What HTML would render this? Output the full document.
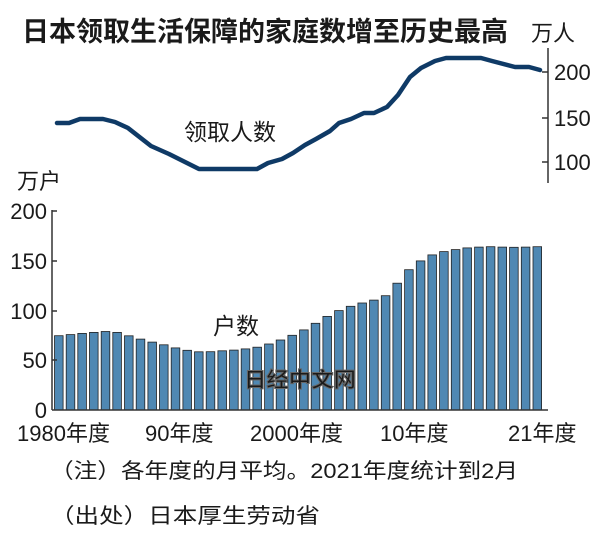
<!DOCTYPE html>
<html><head><meta charset="utf-8"><style>
body{margin:0;background:#fff;width:600px;height:552px;overflow:hidden}
svg text{font-family:"Liberation Sans","Noto Sans CJK SC",sans-serif;fill:#1a1a1a}
.n{font-family:"Liberation Sans Narrow","Liberation Sans","Noto Sans CJK SC",sans-serif}
</style></head><body>
<svg width="600" height="552" xmlns="http://www.w3.org/2000/svg">
<text x="22" y="41" font-size="27" font-weight="bold" fill="#000" textLength="486" lengthAdjust="spacingAndGlyphs">日本领取生活保障的家庭数增至历史最高</text>
<text x="531" y="41" font-size="22">万人</text>
<text x="184" y="140" font-size="23">领取人数</text>
<text x="17" y="189" font-size="22">万户</text>
<text x="213" y="334" font-size="23">户数</text>
<line x1="548" y1="48" x2="548" y2="183" stroke="#333" stroke-width="1.5"/>
<g stroke="#333" stroke-width="1.5"><line x1="542" y1="72" x2="548" y2="72"/><line x1="542" y1="118" x2="548" y2="118"/><line x1="542" y1="162" x2="548" y2="162"/></g>
<g class="n" font-size="22"><text x="554" y="80">200</text><text x="554" y="126">150</text><text x="554" y="170">100</text></g>
<polyline fill="none" stroke="#0f3a66" stroke-width="4.5" stroke-linejoin="round" stroke-linecap="round" points="57,123 69,123 80,119 103,119 115,122 128,128 151,146 169,154 199,169 257,169 268,163 282,159 293,153 305,145 316,139 330,131 339,123 351,119 364,113 374,113 387,107 398,95 410,77 421,68 435,61 446,58 481,58 492,61 515,67 529,67 540,70"/>
<g id="bars" fill="#4f88b3" stroke="#222" stroke-width="0.8"></g>
<line x1="52" y1="210" x2="52" y2="410" stroke="#333" stroke-width="1.5"/>
<line x1="52" y1="410" x2="548" y2="410" stroke="#333" stroke-width="1.5"/>
<g stroke="#333" stroke-width="1.5"><line x1="52" y1="211" x2="57" y2="211"/><line x1="52" y1="261" x2="57" y2="261"/><line x1="52" y1="311" x2="57" y2="311"/><line x1="52" y1="360" x2="57" y2="360"/></g>
<g class="n" font-size="22" text-anchor="end"><text x="47" y="219">200</text><text x="47" y="269">150</text><text x="47" y="319">100</text><text x="47" y="368">50</text><text x="47" y="418">0</text></g>
<g class="n" font-size="22"><text x="17" y="441">1980年度</text><text x="145" y="441">90年度</text><text x="250" y="441">2000年度</text><text x="380" y="441">10年度</text><text x="508" y="441">21年度</text></g>
<text x="244" y="387" font-size="21" font-weight="bold" fill="#e8eef3" stroke="#666" stroke-width="1" textLength="112" lengthAdjust="spacingAndGlyphs">日经中文网</text>
<text x="50" y="478" font-size="21" textLength="468" lengthAdjust="spacingAndGlyphs">（注）各年度的月平均。2021年度统计到2月</text>
<text x="50" y="523" font-size="21" textLength="270" lengthAdjust="spacingAndGlyphs">（出处）日本厚生劳动省</text>
</svg>
<script>
var v=[74.7,75.8,77,78,78.9,78,74.6,71.3,68.2,65.5,62.4,60,58.5,58.6,59.5,60.2,61.4,63.1,66.3,70.4,75.1,80.5,87.1,94.1,99.9,104.2,107.5,110.5,114.9,127.4,141,149.8,155.9,159.2,161.2,162.9,163.7,164.1,163.7,163.5,163.7,164.1];
var g=document.getElementById('bars'),s='';
for(var i=0;i<v.length;i++){var x=54.5+i*11.67,h=v[i]*0.995;s+='<rect x="'+x.toFixed(1)+'" y="'+(410-h).toFixed(1)+'" width="8.6" height="'+h.toFixed(1)+'"/>';}
g.innerHTML=s;
</script>
</body></html>
